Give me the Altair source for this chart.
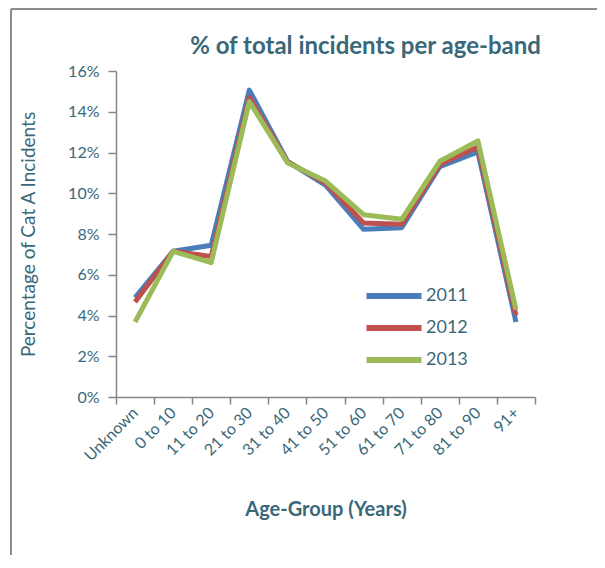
import altair as alt
import pandas as pd

age_groups = ["Unknown", "0 to 10", "11 to 20", "21 to 30", "31 to 40", "41 to 50",
              "51 to 60", "61 to 70", "71 to 80", "81 to 90", "91+"]
years = ["2011", "2012", "2013"]
pct_2011 = [4.88, 7.15, 7.45, 15.06, 11.57, 10.40, 8.23, 8.31, 11.30, 12.03, 3.68]
pct_2012 = [4.66, 7.15, 6.90, 14.70, 11.55, 10.50, 8.54, 8.48, 11.42, 12.27, 4.00]
pct_2013 = [3.68, 7.15, 6.60, 14.50, 11.50, 10.60, 8.95, 8.72, 11.57, 12.57, 4.29]
colors = ["#4a7ebb", "#c0504d", "#9bbb59"]

rows = []
for yr, vals in zip(years, [pct_2011, pct_2012, pct_2013]):
    for g, v in zip(age_groups, vals):
        rows.append({"Age": g, "Year": yr, "Pct": v / 100.0})
df = pd.DataFrame(rows)

TEAL = "#3a6878"
GRAY = "#868686"
FONT = "Lato"

lines = alt.Chart(df).mark_line(strokeWidth=5, strokeJoin="round").encode(
    x=alt.X("Age:N", sort=age_groups, bandPosition=0.5,
            scale=alt.Scale(type="band", paddingInner=0, paddingOuter=0),
            axis=alt.Axis(title="Age-Group (Years)", labelAngle=-45, tickBand="extent",
                          labelAlign="right", labelBaseline="middle", grid=False,
                          labelFontSize=16, labelColor=TEAL, labelFont=FONT,
                          labelPadding=6, tickSize=7, tickColor=GRAY, domainColor=GRAY,
                          domainWidth=1.5, tickWidth=1.5,
                          titleFontSize=20, titleFont=FONT, titleFontWeight="bold",
                          titleColor=TEAL, titleY=118, titleBaseline="alphabetic")),
    y=alt.Y("Pct:Q", scale=alt.Scale(domain=[0, 0.16], nice=False),
            axis=alt.Axis(title="Percentage of Cat A Incidents", format=".0%",
                          values=[0, 0.02, 0.04, 0.06, 0.08, 0.10, 0.12, 0.14, 0.16],
                          grid=False, labelFontSize=16, labelColor=TEAL, labelFont=FONT,
                          labelPadding=9, tickSize=8, tickColor=GRAY, domainColor=GRAY,
                          domainWidth=1.5, tickWidth=1.5,
                          titleFontSize=19, titleFont=FONT, titleFontWeight="normal",
                          titleColor=TEAL, titleX=-88, titleY=163,
                          titleBaseline="middle", titleAngle=-90)),
    color=alt.Color("Year:N", scale=alt.Scale(domain=years, range=colors),
                    legend=alt.Legend(orient="none", legendX=269, legendY=216,
                                      title=None, symbolType="M-5,0H5", symbolSize=121,
                                      symbolStrokeWidth=6, labelFontSize=18,
                                      labelFont=FONT, labelColor=TEAL, labelOffset=23,
                                      rowPadding=8, padding=0)),
)

frame_top = alt.Chart(df).mark_rule(color="#8c8c8c", strokeWidth=2).encode(
    x=alt.value(-105), x2=alt.value(489), y=alt.value(-62))
frame_left = alt.Chart(df).mark_rule(color="#8c8c8c", strokeWidth=2).encode(
    x=alt.value(-105), y=alt.value(-62), y2=alt.value(497))

chart = alt.layer(frame_top, frame_left, lines).properties(
    width=419, height=326,
    view=alt.ViewBackground(strokeOpacity=0, strokeWidth=0),
    title=alt.TitleParams("% of total incidents per age-band", fontSize=24, font=FONT,
                          fontWeight="bold", color=TEAL, dx=40, offset=-70,
                          baseline="alphabetic"),
    autosize=alt.AutoSizeParams(type="none"),
    padding={"left": 108, "top": 63, "right": 62, "bottom": 158},
).configure(background="white")

chart.save("out.html", embed_options={"renderer": "svg", "actions": False})
